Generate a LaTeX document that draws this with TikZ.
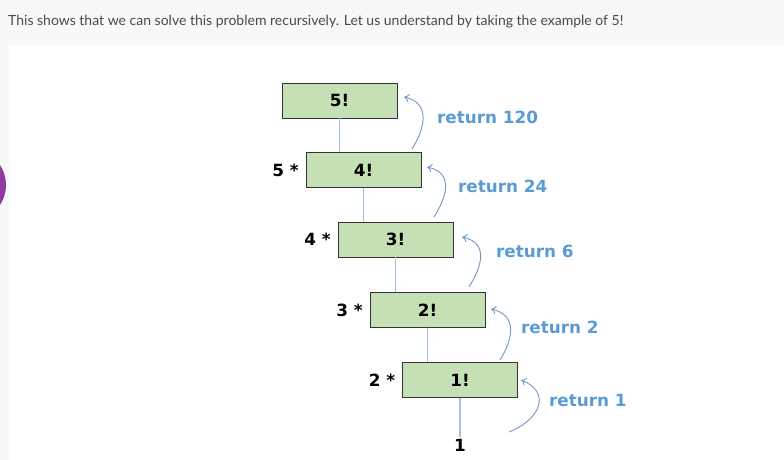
\documentclass[tikz,border=0pt]{standalone}
\usepackage{fontspec}
\setmainfont{DejaVu Sans}
\newfontfamily\headfont{Lato}
\usetikzlibrary{arrows.meta}

\definecolor{pagegrey}{HTML}{F8F8F8}
\definecolor{headgrey}{HTML}{4A4A4A}
\definecolor{boxgreen}{HTML}{C5E0B4}
\definecolor{linkblue}{HTML}{9DC3E6}
\definecolor{retblue}{HTML}{5B9BD5}
\definecolor{backblue}{HTML}{7397C4}
\definecolor{dotpurple}{HTML}{8E3A9E}

\begin{document}
\begin{tikzpicture}[x=1pt, y=-1pt,
		fact/.style={draw=black!80, fill=boxgreen, minimum width=115pt, minimum height=35pt,
			inner sep=0pt, font=\bfseries\fontsize{16.8}{16.8}\selectfont},
		mult/.style={anchor=east, inner sep=0pt, font=\bfseries\fontsize{16.8}{16.8}\selectfont},
		ret/.style={anchor=west, inner sep=0pt, text=retblue, font=\bfseries\fontsize{16.8}{16.8}\selectfont},
		link/.style={draw=linkblue, line width=1.1pt},
		back/.style={draw=backblue, line width=0.9pt, -{To[length=5pt, width=8pt]}}]
		\useasboundingbox (0, 0) rectangle (784, 460);
		\fill[pagegrey] (0, 0) rectangle (784, 460);
		\fill[white] (9, 45) rectangle (784, 460);
		\begin{scope}
			\clip (0, 0) rectangle (784, 460);
			\fill[dotpurple] (-30, 185) circle (36);
		\end{scope}
		
		\node[anchor=base west, inner sep=0pt, text=headgrey, font=\headfont\fontsize{14}{14}\selectfont] (intro) at (8, 26)
			{This shows that we can solve this problem recursively. Let us understand by taking the example of 5!};
		
		% factorial boxes
		\node[fact] (f5) at (339.5, 100.5) {5!};
		\node[fact] (f4) at (363.5, 170) {4!};
		\node[fact] (f3) at (395.5, 239.5) {3!};
		\node[fact] (f2) at (427.5, 310) {2!};
		\node[fact] (f1) at (460, 380) {1!};
		\node[font=\bfseries\fontsize{16.8}{16.8}\selectfont, inner sep=0pt] (one) at (460, 445) {1};
		
		\node[mult] (m5) at ([xshift=-7pt]f4.west) {5 *};
		\node[mult] (m4) at ([xshift=-7pt]f3.west) {4 *};
		\node[mult] (m3) at ([xshift=-7pt]f2.west) {3 *};
		\node[mult] (m2) at ([xshift=-7pt]f1.west) {2 *};
		
		% calls going down
		\draw[link] (f5.south) -- (f5.south |- f4.north);
		\draw[link] (f4.south) -- (f4.south |- f3.north);
		\draw[link] (f3.south) -- (f3.south |- f2.north);
		\draw[link] (f2.south) -- (f2.south |- f1.north);
		\draw[link] (f1.south) -- ([yshift=2pt]one.north);
		
		% values coming back
		\coordinate (s1) at (412, 149);  \coordinate (t1) at (404, 97);
		\coordinate (s2) at (434, 217);  \coordinate (t2) at (427, 167);
		\coordinate (s3) at (469, 287);  \coordinate (t3) at (462, 237);
		\coordinate (s4) at (500, 360);  \coordinate (t4) at (491, 309);
		\coordinate (s5) at (509, 432);  \coordinate (t5) at (521, 380);
		\draw[back] (s1) .. controls (424, 130) and (432, 103) .. (t1);
		\draw[back] (s2) .. controls (446, 198) and (455, 173) .. (t2);
		\draw[back] (s3) .. controls (481, 268) and (490, 243) .. (t3);
		\draw[back] (s4) .. controls (512, 341) and (519, 315) .. (t4);
		\draw[back] (s5) .. controls (540, 420) and (552, 392) .. (t5);
		
		\node[ret] (r5) at (437, 117) {return 120};
		\node[ret] (r4) at (458, 186) {return 24};
		\node[ret] (r3) at (496, 251) {return 6};
		\node[ret] (r2) at (521, 327) {return 2};
		\node[ret] (r1) at (549, 400) {return 1};
	\end{tikzpicture}
\end{document}
